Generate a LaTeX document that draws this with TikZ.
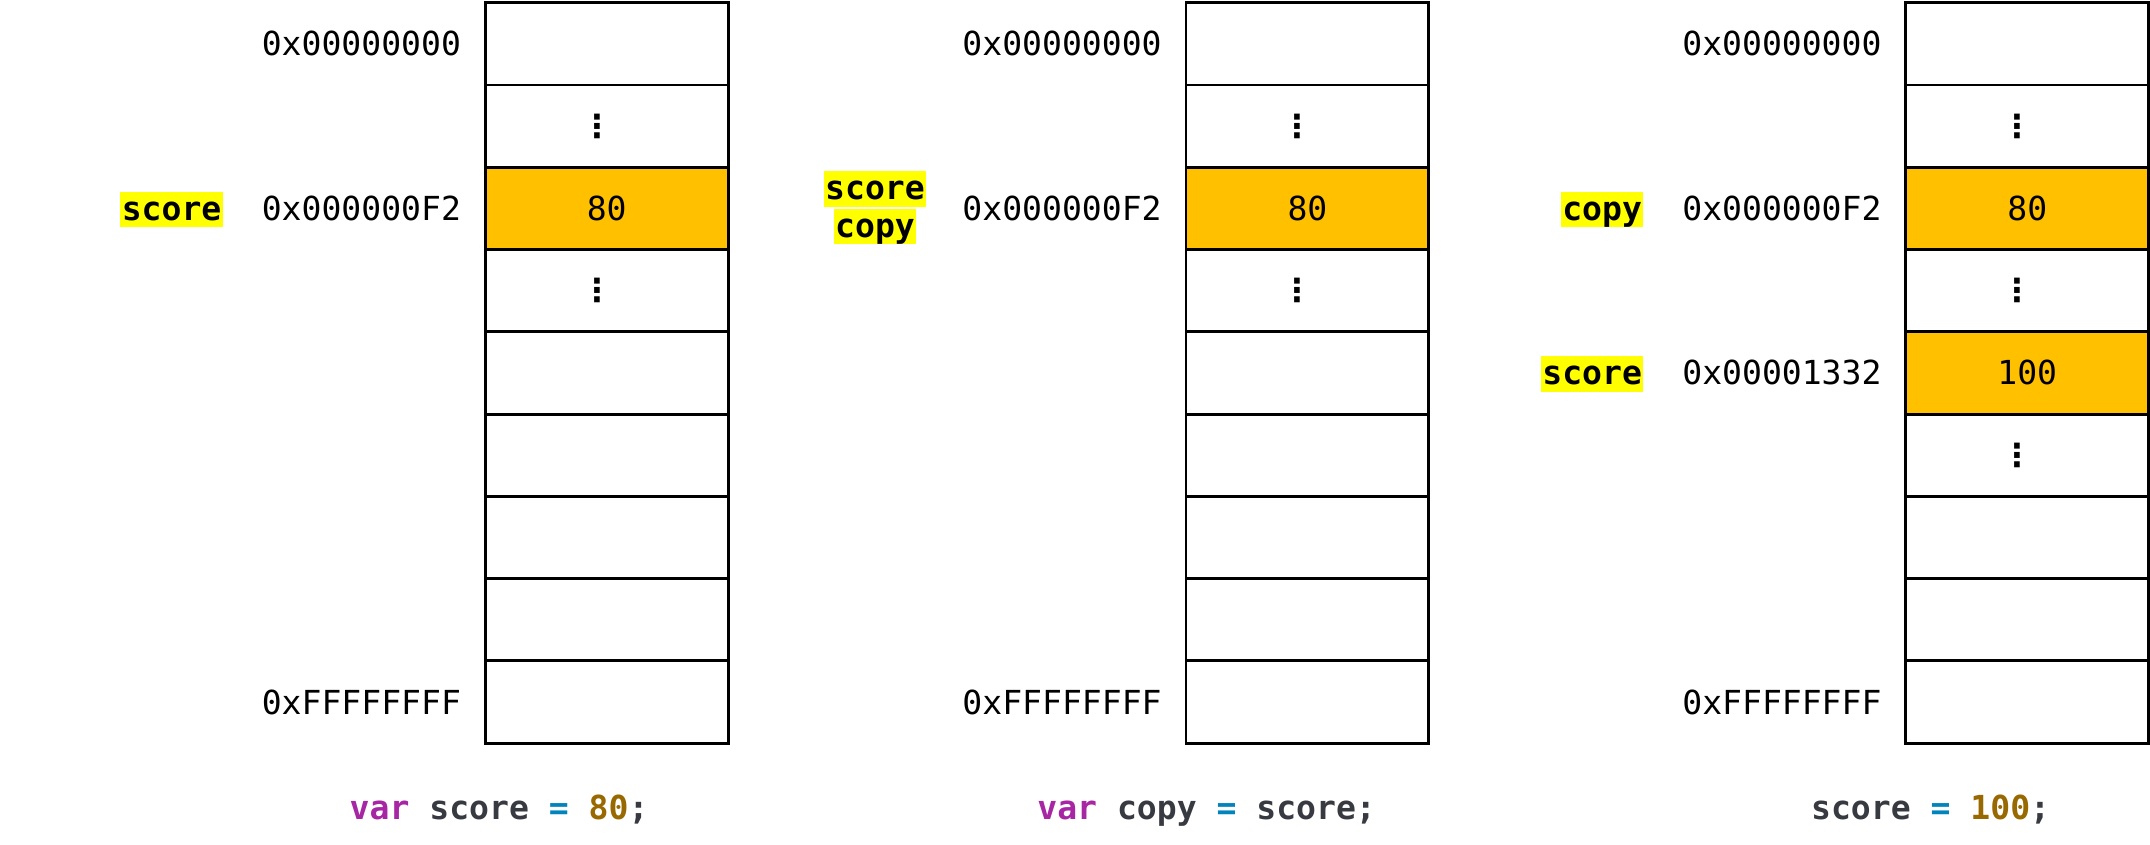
\documentclass[tikz,border=0pt]{standalone}
\usepackage{fontspec}
\setmonofont{DejaVu Sans Mono}
\newfontfamily\dotsfont{DejaVu Sans}
\usetikzlibrary{positioning}
\definecolor{slotfill}{HTML}{FFC000}
\definecolor{marker}{HTML}{FFFF00}
\definecolor{kwcolor}{HTML}{A626A4}
\definecolor{idcolor}{HTML}{383A42}
\definecolor{opcolor}{HTML}{0184BC}
\definecolor{numcolor}{HTML}{986801}
\newcommand{\memfont}{\fontsize{6.86}{8}\selectfont\ttfamily}

\begin{document}
\begin{tikzpicture}[x=0.01cm, y=-0.01cm,
    slot/.style={draw, line width=0.6pt, minimum width=1.77cm, minimum height=0.6cm, inner sep=0pt, font=\memfont},
    taken/.style={slot, fill=slotfill},
    vdot/.style={inner sep=0pt, xshift=-0.07cm, font=\dotsfont\bfseries\fontsize{6.6}{7}\selectfont},
    addr/.style={inner sep=0pt, font=\memfont},
    varname/.style={fill=marker, inner xsep=0.3pt, inner ysep=0pt, text height=0.21cm, text depth=0.05cm, font=\memfont\bfseries},
    code/.style={inner sep=0pt, anchor=base, text=idcolor, font=\memfont\bfseries},
    node distance=0.16cm]
  \useasboundingbox (0,0) rectangle (1568,616);

  % memory columns
  \foreach \c/\x in {a/442.5,b/953.5,c/1478.5}
    \foreach \r in {0,...,8}
      \node[slot] (\c\r) at (\x,{32+60*\r}) {};

  % var score = 80;
  \node[taken] (a2v) at (a2) {80};
  \node[vdot] at (a1) {⋮};
  \node[vdot] at (a3) {⋮};
  \node[addr, left=of a0] (a0addr) {0x00000000};
  \node[addr, left=of a2] (a2addr) {0x000000F2};
  \node[addr, left=of a8] (a8addr) {0xFFFFFFFF};
  \node[varname, base left=0.27cm of a2addr] (ascore) {score};
  \node[code] (acode) at (364,598) {\textcolor{kwcolor}{var} score \textcolor{opcolor}{=} \textcolor{numcolor}{80};};

  % var copy = score;
  \node[taken] (b2v) at (b2) {80};
  \node[vdot] at (b1) {⋮};
  \node[vdot] at (b3) {⋮};
  \node[addr, left=of b0] (b0addr) {0x00000000};
  \node[addr, left=of b2] (b2addr) {0x000000F2};
  \node[addr, left=of b8] (b8addr) {0xFFFFFFFF};
  \node[varname, anchor=base east] (bscore) at ([xshift=-0.25cm, yshift=0.15cm]b2addr.base west) {score};
  \node[varname, below=0pt of bscore] (bcopy) {copy};
  \node[code] (bcode) at (880,598) {\textcolor{kwcolor}{var} copy \textcolor{opcolor}{=} score;};

  % score = 100;
  \node[taken] (c2v) at (c2) {80};
  \node[taken] (c4v) at (c4) {100};
  \node[vdot] at (c1) {⋮};
  \node[vdot] at (c3) {⋮};
  \node[vdot] at (c5) {⋮};
  \node[addr, left=of c0] (c0addr) {0x00000000};
  \node[addr, left=of c2] (c2addr) {0x000000F2};
  \node[addr, left=of c4] (c4addr) {0x00001332};
  \node[addr, left=of c8] (c8addr) {0xFFFFFFFF};
  \node[varname, base left=0.27cm of c2addr] (ccopy) {copy};
  \node[varname, base left=0.27cm of c4addr] (cscore) {score};
  \node[code] (ccode) at (1408,598) {score \textcolor{opcolor}{=} \textcolor{numcolor}{100};};
\end{tikzpicture}
\end{document}
